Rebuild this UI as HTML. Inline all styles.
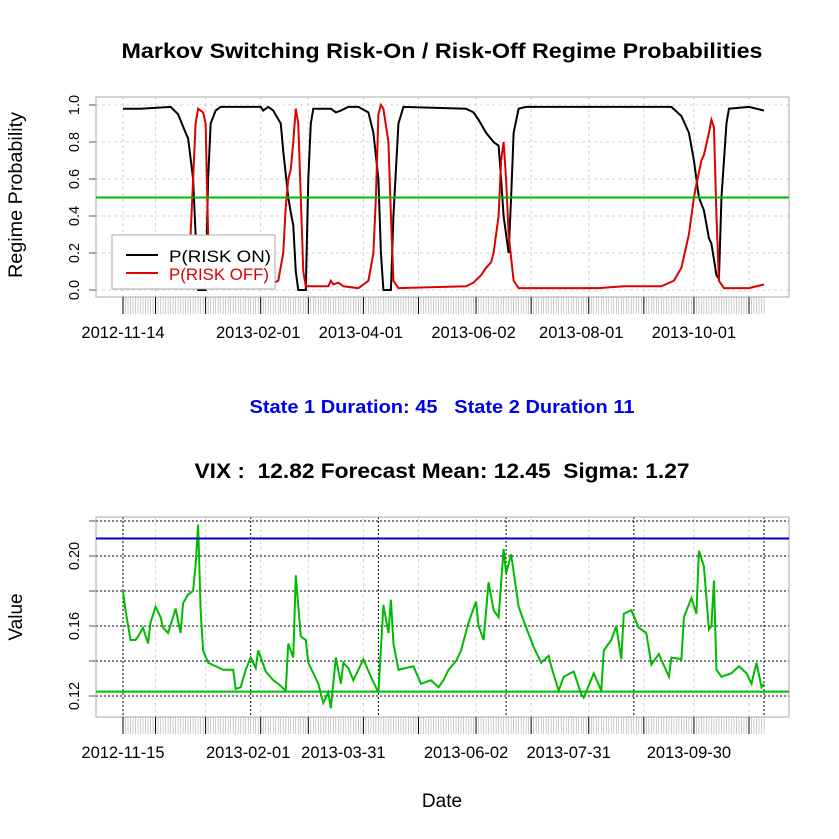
<!DOCTYPE html>
<html><head><meta charset="utf-8"><style>
body{margin:0;background:#fff;}
svg{display:block;font-family:"Liberation Sans",Arial,sans-serif;}
</style></head><body>
<svg id="c" width="839" height="839" xmlns="http://www.w3.org/2000/svg"></svg>
<script>
const onDays=[0,7,19,22,25,26,28,29,30,33,34,35,37,39,55,56,58,60,63,64,66,67,68,69,70,73,74,75,76,83,85,87,90,94,98,100,102,103,104,107,108,110,112,137,140,142,145,148,150,151,152,154,155,156,158,161,219,223,226,228,230,232,234,235,237,238,239,241,242,250,256];
const onVals=[.98,.98,.99,.95,.85,.82,.6,.3,0,0,.6,.9,.97,.99,.99,.97,.99,.97,.9,.75,.5,.42,.35,.1,0,0,.6,.9,.98,.98,.96,.97,.99,.99,.96,.85,.6,.2,0,0,.4,.9,.99,.98,.96,.92,.85,.8,.78,.6,.4,.2,.5,.85,.98,.99,.99,.94,.85,.7,.5,.43,.28,.25,.08,.06,.5,.9,.98,.99,.97];
const offDays=[0,19,25,27,29,30,32,33,34,35,37,55,62,64,65,66,67,68,69,70,71,72,73,76,82,83,84,86,88,94,98,100,101,102,103,104,106,107,108,110,137,140,143,145,147,148,150,151,152,153,154,156,158,190,200,215,220,223,226,228,229,231,232,234,235,236,237,238,240,250,256];
const offVals=[.02,.01,.1,.3,.9,.98,.96,.9,.3,.05,.01,.01,.05,.2,.45,.6,.65,.8,.98,.9,.5,.1,.02,.02,.02,.05,.03,.04,.02,.01,.05,.2,.5,.95,1,.98,.8,.4,.05,.01,.02,.04,.08,.12,.15,.2,.4,.7,.8,.6,.3,.05,.01,.01,.02,.02,.05,.12,.3,.5,.57,.7,.73,.85,.92,.88,.4,.05,.01,.01,.03];
const vixDays=[0,1,3,5,6,8,10,11,13,15,16,18,20,21,23,24,26,28,29,30,31,32,34,37,40,44,45,47,49,51,53,54,57,60,62,65,66,68,69,71,73,74,78,80,82,83,85,87,88,90,92,94,96,99,102,104,106,107,108,110,116,119,123,126,128,130,133,135,138,141,142,144,146,148,150,152,153,155,158,160,164,167,170,171,174,176,180,183,184,188,191,192,195,197,199,200,203,206,209,211,214,218,219,223,224,227,229,230,232,234,235,236,237,239,243,246,249,251,253,255,256];
const vixVals=[.180,.169,.152,.152,.154,.159,.150,.162,.171,.165,.159,.156,.165,.170,.156,.173,.178,.180,.195,.218,.169,.146,.139,.137,.135,.135,.124,.125,.135,.142,.136,.146,.134,.129,.127,.123,.150,.142,.189,.154,.152,.139,.127,.116,.122,.113,.142,.127,.139,.136,.129,.135,.141,.131,.122,.172,.156,.175,.150,.135,.137,.127,.129,.125,.129,.135,.140,.146,.162,.174,.160,.152,.185,.169,.165,.204,.190,.201,.171,.163,.148,.139,.143,.137,.123,.131,.134,.121,.119,.133,.123,.146,.152,.160,.141,.167,.169,.159,.156,.138,.144,.131,.142,.141,.165,.176,.167,.203,.194,.158,.160,.186,.135,.131,.133,.137,.133,.127,.139,.125,.127];
const topLabels=["2012-11-14","2013-02-01","2013-04-01","2013-06-02","2013-08-01","2013-10-01"];
const topLabelDays=[0,54,95,140,183,228];
const botLabels=["2012-11-15","2013-02-01","2013-03-31","2013-06-02","2013-07-31","2013-09-30"];
const botLabelDays=[0,50,88,137,178,226];
const monthDays=[0,13,33,55,74,96,118,141,163,186,208,228,250];
const botMajorDays=[0,51,102,153,204,256];
const probTicks=[0,0.2,0.4,0.6,0.8,1.0];
const vixTicks=[0.12,0.16,0.20];
const vixGrid=[0.12,0.14,0.16,0.18,0.20,0.22];
const upperBand=0.21, lowerBand=0.1225, midProb=0.5;

const S=document.getElementById('c');const NS="http://www.w3.org/2000/svg";
function el(t,a,p){const e=document.createElementNS(NS,t);for(const k in a)e.setAttribute(k,a[k]);(p||S).appendChild(e);return e;}
const X=d=>123+d*2.504;
const Yt=v=>290-v*185;
const Yb=v=>696-(v-0.12)/0.02*35;
function txt(x,y,s,o,p){const t=el('text',Object.assign({x:x,y:y,'text-anchor':'middle','font-size':15},o||{}),p);t.textContent=s;return t;}

let t=txt(442,58,"Markov Switching Risk-On / Risk-Off Regime Probabilities",{'font-size':21,'font-weight':'bold',textLength:641,lengthAdjust:'spacingAndGlyphs'});

t=txt(442,413,"State 1 Duration: 45\u00a0\u00a0\u00a0State 2 Duration 11",{'font-size':18,'font-weight':'bold',fill:'#0000ee',textLength:385,lengthAdjust:'spacingAndGlyphs'});

t=txt(442,478,"VIX :\u00a0\u00a012.82 Forecast Mean: 12.45\u00a0\u00a0Sigma: 1.27",{'font-size':21,'font-weight':'bold',textLength:495,lengthAdjust:'spacingAndGlyphs'});

t=txt(442,807,"Date",{'font-size':19});

t=txt(0,0,"Regime Probability",{'font-size':19,transform:'translate(22,195) rotate(-90)',textLength:166,lengthAdjust:'spacingAndGlyphs'});

t=txt(0,0,"Value",{'font-size':19,transform:'translate(22,617) rotate(-90)'});


const g1=el('g',{});
monthDays.forEach(d=>el('line',{x1:X(d),x2:X(d),y1:97,y2:297,stroke:'#d3d3d3','stroke-dasharray':'3,3'},g1));
probTicks.forEach(v=>{el('line',{x1:96,x2:789,y1:Yt(v),y2:Yt(v),stroke:'#d3d3d3','stroke-dasharray':'3,3'},g1);
 el('line',{x1:89,x2:96,y1:Yt(v),y2:Yt(v),stroke:'#555'},g1);
 txt(0,0,v.toFixed(1),{'font-size':14.5,transform:`translate(${79},${Yt(v)}) rotate(-90)`},g1);});
el('rect',{x:96,y:97,width:693,height:200,fill:'none',stroke:'#aaa'},g1);
for(let d=0;d<=256;d++)el('line',{x1:X(d),x2:X(d),y1:297,y2:314,stroke:'#aaa','stroke-width':0.6},g1);
monthDays.forEach(d=>el('line',{x1:X(d),x2:X(d),y1:297,y2:314,stroke:'#000'},g1));
topLabels.forEach((s,i)=>txt(X(topLabelDays[i]),338,s,{'font-size':16.5},g1));
const pOn=el('polyline',{points:onDays.map((d,i)=>X(d)+','+Yt(onVals[i])).join(' '),fill:'none',stroke:'#000','stroke-width':2},g1);

const pOff=el('polyline',{points:offDays.map((d,i)=>X(d)+','+Yt(offVals[i])).join(' '),fill:'none',stroke:'#dd0000','stroke-width':2},g1);

const mid=el('line',{x1:96,x2:789,y1:Yt(midProb),y2:Yt(midProb),stroke:'#00bb00','stroke-width':2},g1);

const lg=el('g',{},g1);
el('rect',{x:112,y:235,width:163,height:54,fill:'#fff',stroke:'#aaa'},lg);
el('line',{x1:126,x2:158,y1:255,y2:255,stroke:'#000','stroke-width':2},lg);
el('line',{x1:126,x2:158,y1:273,y2:273,stroke:'#dd0000','stroke-width':2},lg);
t=txt(169,262,"P(RISK ON)",{'text-anchor':'start','font-size':17,textLength:102,lengthAdjust:'spacingAndGlyphs'},lg);
t=txt(169,280,"P(RISK OFF)",{'text-anchor':'start','font-size':17,fill:'#dd0000',textLength:100,lengthAdjust:'spacingAndGlyphs'},lg);

const g2=el('g',{});
monthDays.forEach(d=>el('line',{x1:X(d),x2:X(d),y1:517,y2:717,stroke:'#d3d3d3','stroke-dasharray':'3,3'},g2));
botMajorDays.forEach(d=>el('line',{x1:X(d),x2:X(d),y1:517,y2:717,stroke:'#000','stroke-dasharray':'2,2'},g2));
vixGrid.forEach(v=>el('line',{x1:96,x2:789,y1:Yb(v),y2:Yb(v),stroke:'#000','stroke-dasharray':'2,2'},g2));
vixGrid.forEach(v=>el('line',{x1:89,x2:96,y1:Yb(v),y2:Yb(v),stroke:'#555'},g2));
vixTicks.forEach(v=>txt(0,0,v.toFixed(2),{'font-size':14.5,transform:`translate(${79},${Yb(v)}) rotate(-90)`},g2));
el('rect',{x:96,y:517,width:693,height:200,fill:'none',stroke:'#aaa'},g2);
for(let d=0;d<=256;d++)el('line',{x1:X(d),x2:X(d),y1:717,y2:734,stroke:'#aaa','stroke-width':0.6},g2);
monthDays.forEach(d=>el('line',{x1:X(d),x2:X(d),y1:717,y2:734,stroke:'#000'},g2));
botLabels.forEach((s,i)=>txt(X(botLabelDays[i]),758,s,{'font-size':16.5},g2));
const vl=el('polyline',{points:vixDays.map((d,i)=>X(d)+','+Yb(vixVals[i])).join(' '),fill:'none',stroke:'#00bb00','stroke-width':2},g2);

const ub=el('line',{x1:96,x2:789,y1:Yb(upperBand),y2:Yb(upperBand),stroke:'#0000cc','stroke-width':2},g2);

const lb=el('line',{x1:96,x2:789,y1:Yb(lowerBand),y2:Yb(lowerBand),stroke:'#00bb00','stroke-width':2},g2);

</script>
</body></html>
